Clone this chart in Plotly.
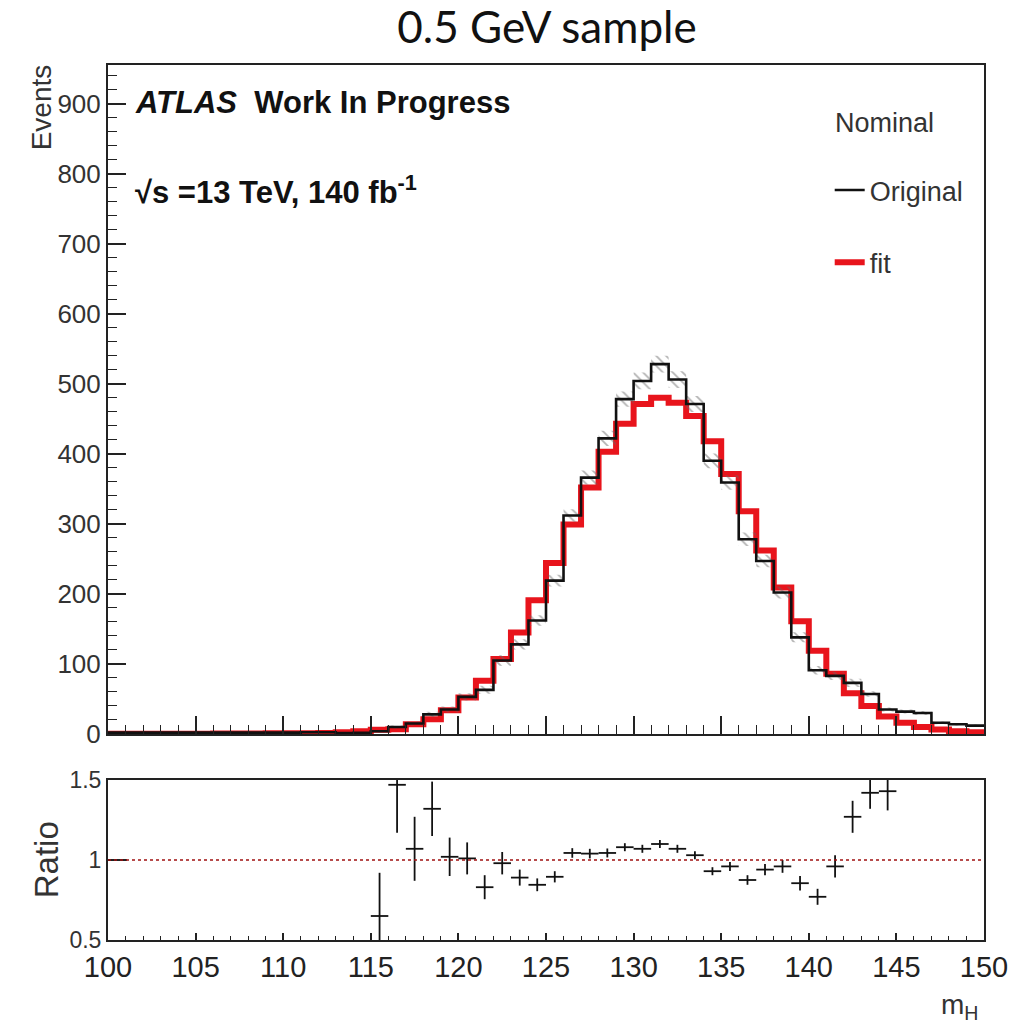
import plotly.graph_objects as go

# ---------------- data ----------------
bin_low = list(range(100, 150))          # m_H bin lower edges [GeV], 1 GeV bins
bin_width = 1.0

original = [2, 2, 2, 2, 2, 2, 2, 2, 2, 2,
            2, 2.5, 2.5, 1.2, 1.8,
            4, 10, 15, 28, 35, 53, 63, 105, 128, 162,
            219, 312, 366, 422, 478, 504, 528, 506, 471, 390,
            359, 278, 247, 202, 138, 91, 83, 73, 57, 35,
            32, 30, 16, 14, 12]

original_err = [1.2, 1.2, 1.2, 1.2, 1.2, 1.2, 1.2, 1.2, 1.2, 1.2,
                1.2, 1.3, 1.3, 1.1, 1.3,
                1.7, 2.2, 2.9, 3.7, 4.2, 5.2, 5.7, 7.5, 7.3, 7.6,
                8.5, 9.0, 10, 11, 11, 12, 12, 12, 11.5, 10.5,
                10.5, 9.5, 9, 8.5, 7.2, 6, 6, 6, 4, 3,
                2.8, 2.7, 2, 1.8, 1.6]

fit = [0.3, 0.3, 0.4, 0.4, 0.5, 0.5, 0.6, 0.7, 0.8, 0.9,
       1.0, 1.2, 1.5, 2.6, 4.0,
       6.2, 6.8, 14, 21, 34, 52, 76, 107, 145, 191,
       244, 299, 352, 403, 443, 471, 480, 473, 454, 418,
       371, 318, 262, 209, 161, 119, 86, 58, 40, 25,
       16, 10, 6.5, 4, 2.5]

ratio = [None] * 15 + [
    0.65, 1.47, 1.07, 1.32, 1.02, 1.01, 0.83, 0.98, 0.89, 0.845,
    0.895, 1.044, 1.04, 1.044, 1.08, 1.07, 1.10, 1.07, 1.03, 0.93,
    0.96, 0.875, 0.94, 0.96, 0.855, 0.77, 0.96, 1.27, 1.42, 1.43] + [None] * 5

ratio_err = [0] * 15 + [
    0.27, 0.30, 0.20, 0.17, 0.12, 0.10, 0.075, 0.07, 0.05, 0.04,
    0.035, 0.03, 0.03, 0.028, 0.025, 0.025, 0.025, 0.025, 0.025, 0.025,
    0.028, 0.03, 0.035, 0.04, 0.045, 0.05, 0.07, 0.10, 0.10, 0.12] + [0] * 5

main_y_ticks = [0, 100, 200, 300, 400, 500, 600, 700, 800, 900]
x_ticks = [100, 105, 110, 115, 120, 125, 130, 135, 140, 145, 150]
ratio_ticks = [0.5, 1, 1.5]
ratio_tick_text = ["0.5", "1", "1.5"]

# ---------------- derived step arrays ----------------
edges = bin_low + [bin_low[-1] + bin_width]
centers = [b + bin_width / 2 for b in bin_low]
orig_step = original + [original[-1]]
fit_step = fit + [fit[-1]]
band_lo = [v - e for v, e in zip(original, original_err)]
band_hi = [v + e for v, e in zip(original, original_err)]
band_lo += [band_lo[-1]]
band_hi += [band_hi[-1]]

SANS = "Liberation Sans, Arial, sans-serif"
NARROW = "Liberation Sans Narrow, Arial Narrow, Liberation Sans, sans-serif"
RED = "#e8141c"

fig = go.Figure()

# fit (red)
fig.add_trace(go.Scatter(x=edges, y=fit_step, mode="lines", line_shape="hv",
                         line=dict(color=RED, width=6), name="fit",
                         legendgroup="b", legendrank=2,
                         xaxis="x", yaxis="y"))
# hatched error band of the original
fig.add_trace(go.Scatter(x=edges, y=band_lo, mode="lines", line_shape="hv",
                         line=dict(width=0), showlegend=False, hoverinfo="skip",
                         xaxis="x", yaxis="y"))
fig.add_trace(go.Scatter(x=edges, y=band_hi, mode="lines", line_shape="hv",
                         line=dict(width=0), fill="tonexty", fillcolor="rgba(0,0,0,0)",
                         fillpattern=dict(shape="\\", size=7, solidity=0.25,
                                          fgcolor="#666666", bgcolor="rgba(0,0,0,0)"),
                         showlegend=False, hoverinfo="skip",
                         xaxis="x", yaxis="y"))
# original (black)
fig.add_trace(go.Scatter(x=edges, y=orig_step, mode="lines", line_shape="hv",
                         line=dict(color="#111111", width=2.6), name="Original",
                         legendgroup="a", legendrank=1,
                         xaxis="x", yaxis="y"))

# ratio panel
fig.add_trace(go.Scatter(x=centers, y=ratio, mode="markers",
                         marker=dict(size=0.1, color="#111111"),
                         error_x=dict(type="constant", value=bin_width / 2, width=0,
                                      thickness=1.8, color="#111111"),
                         error_y=dict(type="data", array=ratio_err, width=0,
                                      thickness=1.8, color="#111111"),
                         showlegend=False, xaxis="x2", yaxis="y2"))

fig.add_shape(type="line", xref="x2 domain", yref="y2", x0=0, x1=1, y0=1, y1=1,
              line=dict(color="#a01010", width=1.5, dash="dot"))

axis_common = dict(showline=True, linecolor="#222222", linewidth=2, mirror=True,
                   showgrid=False, zeroline=False, ticks="inside",
                   tickcolor="#222222", tickwidth=1.5)

fig.update_layout(
    width=1020, height=1028,
    margin=dict(l=108, r=32, t=65, b=88),
    paper_bgcolor="white", plot_bgcolor="white",
    title=dict(text="0.5 GeV sample", x=547 / 1020, xanchor="center",
               y=1 - 28 / 1028, yanchor="middle",
               font=dict(family="Lato, Open Sans, sans-serif", size=44, color="#111111")),
    xaxis=dict(domain=[0, 1], anchor="y", range=[100, 150], tickvals=x_ticks,
               showticklabels=False, ticklen=18,
               minor=dict(dtick=1, ticks="inside", ticklen=9, tickcolor="#222222",
                          tickwidth=1.2, showgrid=False),
               **axis_common),
    yaxis=dict(domain=[(940 - 734) / 875, 1], anchor="x", range=[0, 955],
               tickvals=main_y_ticks, ticklen=18,
               tickfont=dict(family=SANS, size=26, color="#333333"),
               minor=dict(dtick=20, ticks="inside", ticklen=9, tickcolor="#222222",
                          tickwidth=1.2, showgrid=False),
               **axis_common),
    xaxis2=dict(domain=[0, 1], anchor="y2", matches="x", range=[100, 150],
                tickvals=x_ticks, ticklen=7,
                tickfont=dict(family=NARROW, size=29, color="#222222"),
                minor=dict(dtick=1, ticks="inside", ticklen=4, tickcolor="#222222",
                           tickwidth=1.2, showgrid=False),
                **axis_common),
    yaxis2=dict(domain=[0, (940 - 780) / 875], anchor="x2", range=[0.5, 1.5],
                tickvals=ratio_ticks, ticktext=ratio_tick_text, ticklen=19,
                tickfont=dict(family=SANS, size=23, color="#333333"),
                **axis_common),
    legend=dict(x=(833 - 108) / 880, xanchor="left", y=(940 - 166) / 875, yanchor="top",
                bgcolor="rgba(0,0,0,0)", traceorder="grouped", tracegroupgap=34,
                font=dict(family=SANS, size=27, color="#333333")),
    showlegend=True,
)

annots = [
    dict(text="<b><i>ATLAS</i>&nbsp;&nbsp;Work In Progress</b>", xref="x domain", yref="y domain",
         x=(133 - 108) / 880, y=(734 - 103) / 669, xanchor="left", yanchor="middle",
         font=dict(family=SANS, size=31, color="#111111")),
    dict(text="<b>\u221as =13 TeV, 140 fb<sup>-1</sup></b>", xref="x domain", yref="y domain",
         x=(133 - 108) / 880, y=(734 - 190) / 669, xanchor="left", yanchor="middle",
         font=dict(family=SANS, size=31, color="#111111")),
    dict(text="Nominal", xref="x domain", yref="y domain",
         x=(836 - 108) / 880, y=(734 - 123) / 669, xanchor="left", yanchor="middle",
         font=dict(family=SANS, size=27, color="#333333")),
    dict(text="Events", xref="paper", yref="y domain", textangle=-90,
         x=(41 - 108) / 880, y=(734 - 62) / 669, xanchor="center", yanchor="top",
         font=dict(family=SANS, size=28, color="#333333")),
    dict(text="Ratio", xref="paper", yref="y2 domain", textangle=-90,
         x=(46 - 108) / 880, y=0.5, xanchor="center", yanchor="middle",
         font=dict(family=SANS, size=33, color="#333333")),
    dict(text="m<sub>H</sub>", xref="paper", yref="paper",
         x=(984 - 108) / 880, y=(940 - 1006) / 875, xanchor="right", yanchor="middle",
         font=dict(family=SANS, size=28, color="#333333")),
]
for a in annots:
    a["showarrow"] = False
    fig.add_annotation(**a)

fig.write_html("out.html")
